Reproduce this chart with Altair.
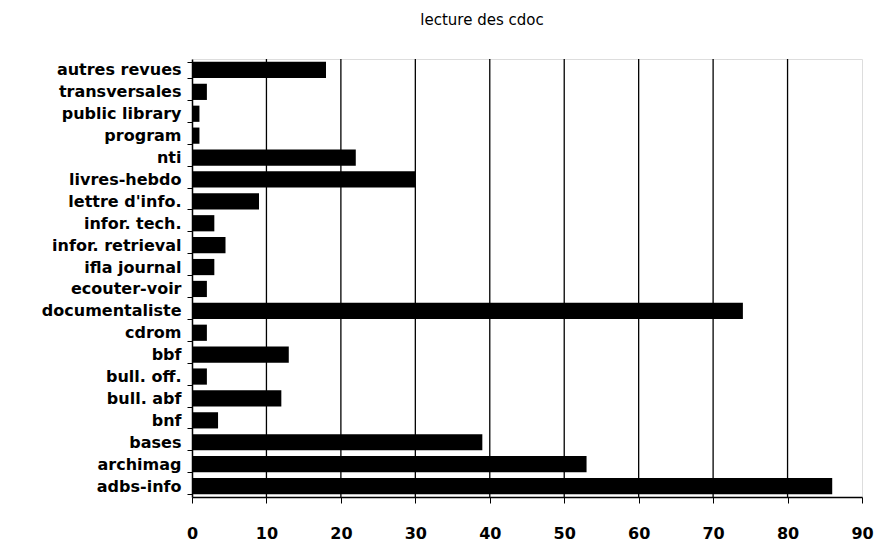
import altair as alt
import pandas as pd

categories = ["autres revues", "transversales", "public library", "program", "nti",
              "livres-hebdo", "lettre d'info.", "infor. tech.", "infor. retrieval",
              "ifla journal", "ecouter-voir", "documentaliste", "cdrom", "bbf",
              "bull. off.", "bull. abf", "bnf", "bases", "archimag", "adbs-info"]
values = [18, 2, 1, 1, 22, 30, 9, 3, 4.5, 3, 2, 74, 2, 13, 2, 12, 3.5, 39, 53, 86]
grid_values = [10, 20, 30, 40, 50, 60, 70, 80]
x_ticks = [0, 10, 20, 30, 40, 50, 60, 70, 80, 90]

df = pd.DataFrame({"revue": categories, "n": values})
grid_df = pd.DataFrame({"g": grid_values})

FONT = "DejaVu Sans"

xscale = alt.Scale(domain=[0, 90], nice=False)

bars = alt.Chart(df).mark_bar(color="black").encode(
    y=alt.Y("revue:N", sort=categories, title=None,
            scale=alt.Scale(paddingInner=0.26, paddingOuter=0.13),
            axis=alt.Axis(labelFont=FONT, labelFontSize=16, labelFontWeight="bold",
                          labelColor="black",
                          labelPadding=6, tickBand="extent", tickSize=5,
                          tickColor="black", domainColor="black", domainWidth=1.5,
                          labelLimit=300)),
    x=alt.X("n:Q", scale=xscale, title=None,
            axis=alt.Axis(values=x_ticks, grid=False, labelFont=FONT,
                          labelFontSize=16, labelFontWeight="bold",
                          labelColor="black", labelPadding=22,
                          tickSize=6, tickColor="black", domainColor="black",
                          domainWidth=1.5, labelFlush=False)),
)

grid = alt.Chart(grid_df).mark_rule(color="black", strokeWidth=1.3).encode(
    x=alt.X("g:Q", scale=xscale)
)

chart = alt.layer(grid, bars).properties(
    width=670, height=438,
    title=alt.TitleParams("lecture des cdoc", font=FONT, fontSize=15,
                          fontWeight="normal", color="black", offset=23, dx=-45),
    autosize=alt.AutoSizeParams(type="none"),
    padding={"left": 184, "top": 51, "right": 13, "bottom": 44},
).configure_view(stroke=None).configure(background="white")

chart.save("out.html", embed_options={"renderer": "svg", "actions": False})
